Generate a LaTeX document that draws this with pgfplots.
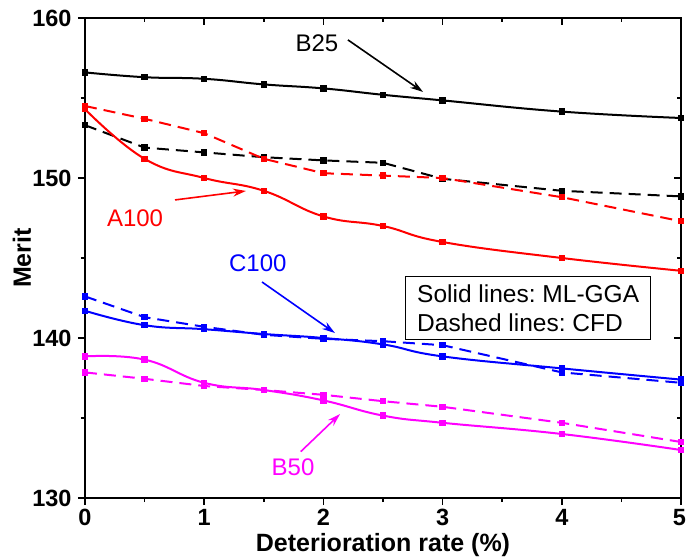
\documentclass[border=0pt]{standalone}
\usepackage{fontspec}
\usepackage{pgfplots}
\pgfplotsset{compat=1.18}
\usetikzlibrary{arrows.meta}
\setmainfont{Liberation Sans}
\frenchspacing

\definecolor{cRed}{RGB}{255,0,0}
\definecolor{cBlue}{RGB}{0,0,255}
\definecolor{cMag}{RGB}{255,0,255}

\begin{document}
\begin{tikzpicture}
\pgfplotsset{
  meritframe/.style={
    scale only axis, width=596pt, height=480pt,
    xmin=0, xmax=5, ymin=130, ymax=160,
    xtick={0,1,2,3,4,5}, ytick={130,140,150,160},
    minor xtick={0.5,1.5,2.5,3.5,4.5},
    minor ytick={135,145,155},
    axis line style={line width=1.6pt},
    every tick/.style={black, line width=1.5pt},
    major tick length=7pt, minor tick length=4pt,
  },
  solidser/.style={line width=2pt, smooth, tension=0.75, mark=square*, mark size=2.2pt, mark options={solid}},
  dashser/.style={line width=2pt, dash pattern=on 12pt off 7pt, mark=square*, mark size=2.2pt, mark options={solid}},
}
% ticks on top and right point into the plot
\begin{axis}[meritframe, tick pos=right, tick align=inside,
  xticklabels={}, yticklabels={}]
\end{axis}
\begin{axis}[meritframe, tick pos=left, tick align=outside,
  /pgf/number format/assume math mode=true,
  xticklabels={0,1,2,3,4,\kern-3pt 5},
  ticklabel style={font=\fontsize{23.5pt}{27pt}\selectfont\bfseries},
  xticklabel style={yshift=-1pt},
  yticklabel style={xshift=-3pt},
  xlabel={Deterioration rate (\%)}, ylabel={Merit},
  every axis x label/.style={at={(axis description cs:0.5,0)}, anchor=center, yshift=-47pt,
    font=\fontsize{25pt}{29pt}\selectfont\bfseries},
  every axis y label/.style={at={(axis description cs:-0.1057,0.5)}, anchor=center, rotate=90,
    font=\fontsize{25pt}{29pt}\selectfont\bfseries},
  clip=false]

% B25
\addplot[black, solidser] coordinates {(0,156.6) (0.5,156.3) (1,156.2) (1.5,155.85) (2,155.6) (2.5,155.2) (3,154.85) (4,154.15) (5,153.75)};
\addplot[black, dashser] coordinates {(0,153.3) (0.5,151.9) (1,151.6) (1.5,151.3) (2,151.1) (2.5,150.95) (3,149.95) (4,149.2) (5,148.85)};
% A100
\addplot[cRed, solidser] coordinates {(0,154.3) (0.5,151.2) (1,150.0) (1.5,149.2) (2,147.6) (2.5,147.0) (3,146.0) (4,145.0) (5,144.2)};
\addplot[cRed, dashser] coordinates {(0,154.5) (0.5,153.7) (1,152.8) (1.5,151.2) (2,150.3) (2.5,150.15) (3,150.0) (4,148.8) (5,147.3)};
% C100
\addplot[cBlue, solidser] coordinates {(0,141.7) (0.5,140.8) (1,140.55) (1.5,140.25) (2,140.0) (2.5,139.6) (3,138.85) (4,138.1) (5,137.4)};
\addplot[cBlue, dashser] coordinates {(0,142.6) (0.5,141.3) (1,140.7) (1.5,140.2) (2,139.95) (2.5,139.8) (3,139.55) (4,137.85) (5,137.2)};
% B50
\addplot[cMag, solidser] coordinates {(0,138.85) (0.5,138.65) (1,137.2) (1.5,136.75) (2,136.1) (2.5,135.15) (3,134.7) (4,134.0) (5,133.0)};
\addplot[cMag, dashser] coordinates {(0,137.85) (0.5,137.45) (1,137.0) (1.5,136.75) (2,136.45) (2.5,136.05) (3,135.7) (4,134.7) (5,133.5)};

% labels with arrows
\node[font=\fontsize{24pt}{28pt}\selectfont, black] at (axis cs:1.946,158.44) {B25};
\draw[black, line width=1.6pt, -{Stealth[length=13pt,width=8pt]}] (axis cs:2.206,158.63) -- (axis cs:2.836,155.38);
\node[font=\fontsize{24pt}{28pt}\selectfont, cRed] at (axis cs:0.42,147.5) {A100};
\draw[cRed, line width=1.6pt, -{Stealth[length=13pt,width=8pt]}] (axis cs:0.755,148.63) -- (axis cs:1.35,149.19);
\node[font=\fontsize{24pt}{28pt}\selectfont, cBlue] at (axis cs:1.45,144.69) {C100};
\draw[cBlue, line width=1.6pt, -{Stealth[length=13pt,width=8pt]}] (axis cs:1.485,143.5) -- (axis cs:2.097,140.31);
\node[font=\fontsize{24pt}{28pt}\selectfont, cMag] at (axis cs:1.745,131.9) {B50};
\draw[cMag, line width=1.6pt, -{Stealth[length=13pt,width=8pt]}] (axis cs:1.81,132.9) -- (axis cs:2.14,135.25);

% line-style key
\node[draw=black, line width=1.3pt, fill=white, anchor=north west, align=left,
  minimum width=245pt, minimum height=63pt, inner sep=3pt,
  font=\fontsize{24.5pt}{29pt}\selectfont]
  at (axis cs:2.685,143.875) {Solid lines: ML-GGA\\Dashed lines: CFD};
\end{axis}
\pgfresetboundingbox
\useasboundingbox (-85pt,-62pt) rectangle (601pt,498pt);
\end{tikzpicture}
\end{document}
